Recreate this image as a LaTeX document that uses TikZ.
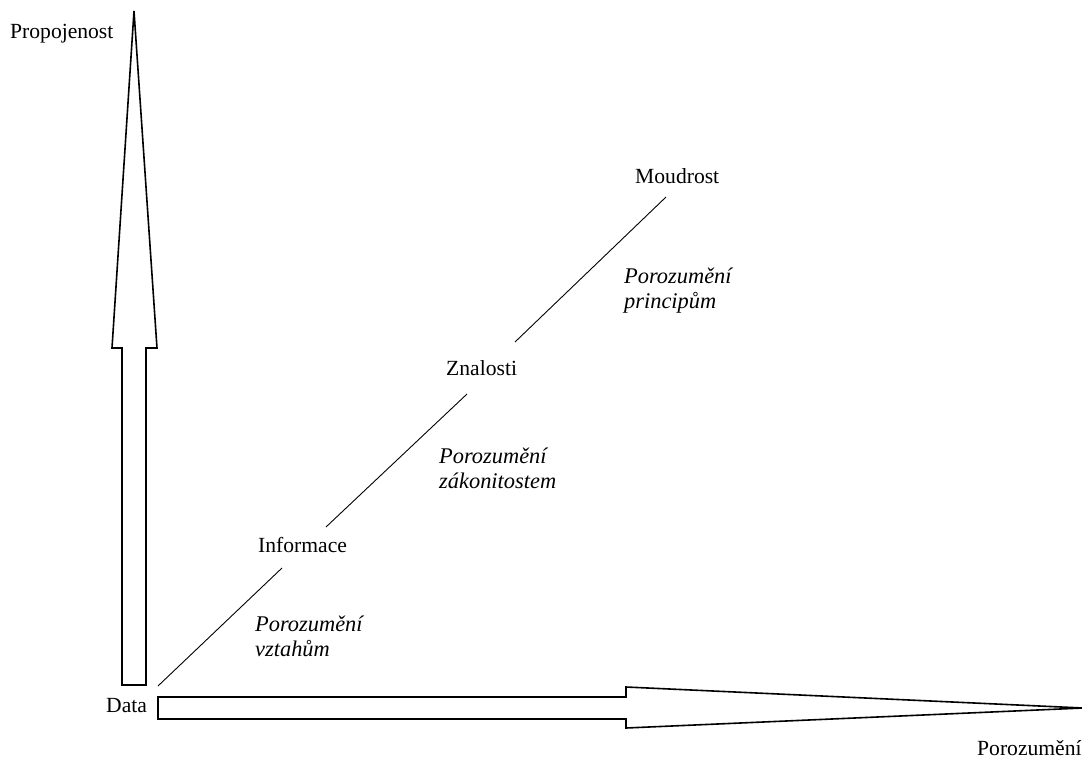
\documentclass[tikz,border=0pt]{standalone}
\usepackage{fontspec}
\setmainfont{Liberation Serif}
\begin{document}
\begin{tikzpicture}[x=1pt,y=-1pt,
  lbl/.style={anchor=base west, inner sep=0pt, font=\fontsize{21.6}{25.5}\selectfont},
  % multi-line notes: the base anchor sits on the last line
  note/.style={anchor=base west, inner sep=0pt, align=left,
    font=\fontsize{22.4}{25}\selectfont\itshape},
  blockarrow/.style={draw=black, line width=1.6pt, fill=white, line join=miter},
  link/.style={draw=black, line width=0.9pt}]
\useasboundingbox (0,0) rectangle (1082,758);
\clip (0,0) rectangle (1082,758);

% axis arrows
\draw[blockarrow] (122,685) -- (122,348) -- (112,348) -- (134,11)
  -- (157,348) -- (146,348) -- (146,685) -- cycle;
\draw[blockarrow] (158,697) -- (626,697) -- (626,687) -- (1083,708)
  -- (626,728) -- (626,719) -- (158,719) -- cycle;

% axis labels
\node[lbl] (yax) at (10,38) {Propojenost};
\node[lbl] (xax) at (977,755) {Porozumění};

% hierarchy levels
\node[lbl] (data) at (106,712) {Data};
\node[lbl] (info) at (258,552) {Informace};
\node[lbl] (know) at (446,375) {Znalosti};
\node[lbl] (wis)  at (635,183) {Moudrost};

% transitions between levels
\coordinate (s1a) at (158,686);
\coordinate (s1b) at (282,568);
\coordinate (s2a) at (326,527);
\coordinate (s2b) at (467,394);
\coordinate (s3a) at (515,342);
\coordinate (s3b) at (666,197);
\draw[link] (s1a) -- (s1b);
\draw[link] (s2a) -- (s2b);
\draw[link] (s3a) -- (s3b);

\node[note] (n1) at (255,656) {Porozumění\\vztahům};
\node[note] (n2) at (439,488) {Porozumění\\zákonitostem};
\node[note] (n3) at (624,308) {Porozumění\\principům};
\end{tikzpicture}
\end{document}
